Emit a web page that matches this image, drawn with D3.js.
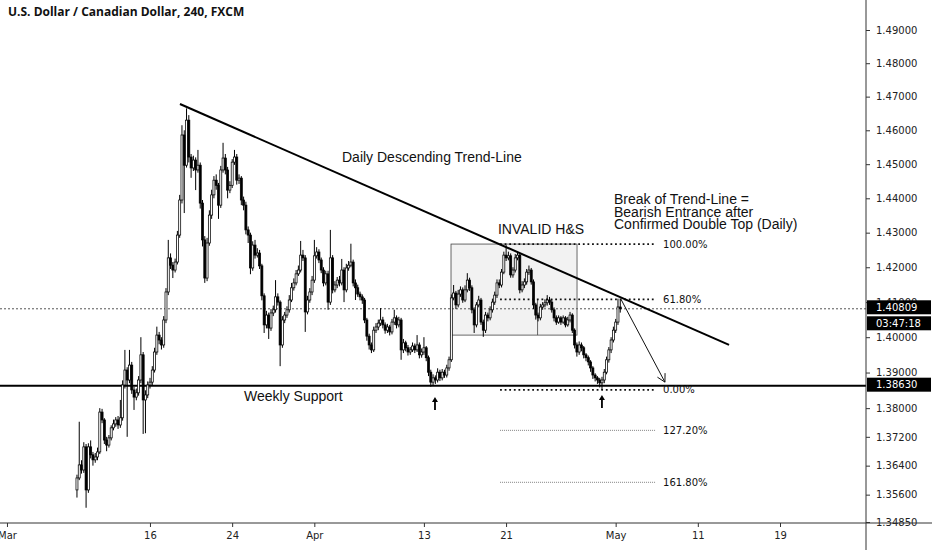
<!DOCTYPE html>
<html>
<head>
<meta charset="utf-8">
<script src="https://cdn.jsdelivr.net/npm/d3@7/dist/d3.min.js"></script>
<style>
  html, body { margin: 0; padding: 0; background: #fff; }
  svg { display: block; }
</style>
</head>
<body>
<svg id="chart" width="932" height="550"></svg>
<script>
'use strict';

// USD/CAD 4h candles
var firstOpen = 1.3573;
var firstSession = 4.67;   // trading-day index of the first candle
var candlesPerDay = 6;

var closes = [
  1.3606, 1.3642, 1.3628, 1.3692, 1.3573, 1.3692, 1.3670, 1.3656, 1.3664, 1.3678,
  1.3789, 1.3767, 1.3711, 1.3697, 1.3717, 1.3745, 1.3756, 1.3767, 1.3753, 1.3773,
  1.3865, 1.3907, 1.3879, 1.3921, 1.3851, 1.3831, 1.3843, 1.3879, 1.3950, 1.3823,
  1.3837, 1.3865, 1.3873, 1.3907, 1.3958, 1.4006, 1.3992, 1.3978, 1.4049, 1.4129,
  1.4227, 1.4206, 1.4192, 1.4215, 1.4293, 1.4395, 1.4586, 1.4497, 1.4630, 1.4521,
  1.4489, 1.4512, 1.4483, 1.4497, 1.4386, 1.4279, 1.4169, 1.4270, 1.4351, 1.4410,
  1.4453, 1.4438, 1.4380, 1.4483, 1.4518, 1.4483, 1.4424, 1.4438, 1.4506, 1.4521,
  1.4453, 1.4459, 1.4395, 1.4380, 1.4308, 1.4293, 1.4198, 1.4264, 1.4235, 1.4241,
  1.4204, 1.4118, 1.4035, 1.4063, 1.4026, 1.4069, 1.4078, 1.4115, 1.4100, 1.3978,
  1.4049, 1.4063, 1.4078, 1.4106, 1.4141, 1.4155, 1.4181, 1.4192, 1.4235, 1.4227,
  1.4072, 1.4106, 1.4129, 1.4163, 1.4233, 1.4244, 1.4221, 1.4192, 1.4155, 1.4181,
  1.4100, 1.4227, 1.4135, 1.4149, 1.4163, 1.4155, 1.4192, 1.4135, 1.4198, 1.4206,
  1.4215, 1.4155, 1.4141, 1.4123, 1.4115, 1.4106, 1.4049, 1.4003, 1.3978, 1.3964,
  1.4020, 1.4029, 1.4040, 1.4049, 1.4035, 1.4020, 1.4029, 1.4015, 1.4043, 1.4055,
  1.4035, 1.4049, 1.3964, 1.3984, 1.3970, 1.3958, 1.3964, 1.3975, 1.3964, 1.3978,
  1.3950, 1.3958, 1.3970, 1.3942, 1.3901, 1.3873, 1.3885, 1.3879, 1.3901, 1.3885,
  1.3901, 1.3893, 1.3913, 1.3936, 1.4112, 1.4126, 1.4092, 1.4123, 1.4135, 1.4106,
  1.4135, 1.4163, 1.4141, 1.4078, 1.4035, 1.4092, 1.4106, 1.4043, 1.4020, 1.4063,
  1.4055, 1.4078, 1.4100, 1.4120, 1.4155, 1.4149, 1.4186, 1.4235, 1.4227, 1.4233,
  1.4178, 1.4192, 1.4227, 1.4235, 1.4135, 1.4149, 1.4158, 1.4186, 1.4192, 1.4158,
  1.4092, 1.4063, 1.4055, 1.4086, 1.4092, 1.4098, 1.4106, 1.4100, 1.4078, 1.4055,
  1.4043, 1.4055, 1.4043, 1.4055, 1.4035, 1.4049, 1.4063, 1.4020, 1.3978, 1.3958,
  1.3978, 1.3970, 1.3950, 1.3942, 1.3930, 1.3913, 1.3893, 1.3885, 1.3879, 1.3871,
  1.3879, 1.3901, 1.3936, 1.3964, 1.3992, 1.4020, 1.4043, 1.4086, 1.40809
];

var highs = [
  1.3615, 1.3762, 1.3655, 1.3705, 1.3700, 1.3702, 1.3710, 1.3678, 1.3675, 1.3690,
  1.3800, 1.3798, 1.3772, 1.3720, 1.3725, 1.3752, 1.3768, 1.3775, 1.3778, 1.3823,
  1.3878, 1.3964, 1.3915, 1.3964, 1.3930, 1.3860, 1.3855, 1.3890, 1.4000, 1.3958,
  1.3850, 1.3875, 1.3885, 1.3918, 1.3970, 1.4030, 1.4015, 1.4000, 1.4060, 1.4140,
  1.4279, 1.4240, 1.4215, 1.4225, 1.4305, 1.4410, 1.4615, 1.4600, 1.4665, 1.4645,
  1.4530, 1.4525, 1.4520, 1.4542, 1.4505, 1.4395, 1.4290, 1.4285, 1.4365, 1.4425,
  1.4465, 1.4470, 1.4445, 1.4495, 1.4563, 1.4530, 1.4492, 1.4450, 1.4515, 1.4542,
  1.4530, 1.4470, 1.4465, 1.4405, 1.4390, 1.4318, 1.4300, 1.4275, 1.4279, 1.4255,
  1.4250, 1.4210, 1.4125, 1.4075, 1.4070, 1.4080, 1.4090, 1.4163, 1.4125, 1.4105,
  1.4060, 1.4072, 1.4088, 1.4120, 1.4155, 1.4168, 1.4192, 1.4205, 1.4276, 1.4250,
  1.4235, 1.4118, 1.4140, 1.4175, 1.4279, 1.4258, 1.4252, 1.4228, 1.4200, 1.4190,
  1.4190, 1.4308, 1.4235, 1.4160, 1.4172, 1.4175, 1.4224, 1.4200, 1.4210, 1.4218,
  1.4268, 1.4222, 1.4165, 1.4150, 1.4130, 1.4122, 1.4112, 1.4055, 1.4010, 1.3985,
  1.4030, 1.4040, 1.4050, 1.4083, 1.4058, 1.4042, 1.4038, 1.4035, 1.4052, 1.4078,
  1.4062, 1.4058, 1.4055, 1.3995, 1.3990, 1.3978, 1.3972, 1.3985, 1.3982, 1.4006,
  1.3985, 1.3968, 1.4000, 1.3975, 1.3948, 1.3908, 1.3895, 1.3892, 1.3912, 1.3908,
  1.3910, 1.3908, 1.3922, 1.3945, 1.4122, 1.4149, 1.4132, 1.4135, 1.4145, 1.4142,
  1.4148, 1.4183, 1.4170, 1.4148, 1.4085, 1.4100, 1.4118, 1.4112, 1.4050, 1.4072,
  1.4070, 1.4088, 1.4110, 1.4130, 1.4165, 1.4165, 1.4195, 1.4245, 1.4264, 1.4245,
  1.4240, 1.4200, 1.4238, 1.4244, 1.4240, 1.4160, 1.4168, 1.4195, 1.4205, 1.4198,
  1.4165, 1.4098, 1.4070, 1.4095, 1.4100, 1.4108, 1.4120, 1.4115, 1.4108, 1.4085,
  1.4062, 1.4062, 1.4060, 1.4062, 1.4060, 1.4058, 1.4072, 1.4068, 1.4025, 1.3985,
  1.3988, 1.3985, 1.3975, 1.3955, 1.3948, 1.3935, 1.3918, 1.3898, 1.3890, 1.3885,
  1.3888, 1.3910, 1.3945, 1.3972, 1.4000, 1.4030, 1.4052, 1.4110, 1.4106
];

var lows = [
  1.3552, 1.3600, 1.3618, 1.3620, 1.3524, 1.3565, 1.3660, 1.3640, 1.3648, 1.3655,
  1.3672, 1.3758, 1.3700, 1.3680, 1.3690, 1.3710, 1.3738, 1.3748, 1.3742, 1.3745,
  1.3765, 1.3855, 1.3720, 1.3870, 1.3840, 1.3795, 1.3822, 1.3835, 1.3870, 1.3728,
  1.3730, 1.3828, 1.3855, 1.3865, 1.3900, 1.3950, 1.3980, 1.3965, 1.3970, 1.4040,
  1.4120, 1.4195, 1.4169, 1.4185, 1.4208, 1.4285, 1.4385, 1.4357, 1.4490, 1.4505,
  1.4460, 1.4480, 1.4424, 1.4475, 1.4370, 1.4260, 1.4155, 1.4160, 1.4262, 1.4340,
  1.4400, 1.4425, 1.4340, 1.4372, 1.4475, 1.4470, 1.4400, 1.4415, 1.4430, 1.4498,
  1.4440, 1.4442, 1.4380, 1.4365, 1.4295, 1.4270, 1.4180, 1.4190, 1.4225, 1.4228,
  1.4195, 1.4105, 1.4012, 1.4025, 1.3995, 1.4018, 1.4060, 1.4070, 1.4090, 1.3918,
  1.3970, 1.4040, 1.4055, 1.4070, 1.4100, 1.4133, 1.4148, 1.4175, 1.4185, 1.4218,
  1.4015, 1.4065, 1.4098, 1.4120, 1.4155, 1.4225, 1.4212, 1.4183, 1.4145, 1.4148,
  1.4078, 1.4092, 1.4125, 1.4128, 1.4140, 1.4145, 1.4148, 1.4100, 1.4128, 1.4190,
  1.4200, 1.4145, 1.4106, 1.4115, 1.4105, 1.4095, 1.4040, 1.3990, 1.3965, 1.3955,
  1.3958, 1.4012, 1.4020, 1.4032, 1.4025, 1.4010, 1.4012, 1.4005, 1.4008, 1.4035,
  1.4025, 1.4028, 1.3936, 1.3955, 1.3960, 1.3948, 1.3950, 1.3958, 1.3955, 1.3958,
  1.3940, 1.3942, 1.3950, 1.3932, 1.3890, 1.3860, 1.3865, 1.3868, 1.3872, 1.3876,
  1.3878, 1.3885, 1.3886, 1.3905, 1.3930, 1.4105, 1.4080, 1.4085, 1.4115, 1.4098,
  1.4100, 1.4128, 1.4132, 1.4068, 1.4012, 1.4028, 1.4085, 1.4035, 1.4001, 1.4012,
  1.4045, 1.4048, 1.4070, 1.4092, 1.4112, 1.4140, 1.4142, 1.4180, 1.4218, 1.4220,
  1.4170, 1.4170, 1.4185, 1.4220, 1.4125, 1.4128, 1.4140, 1.4150, 1.4178, 1.4150,
  1.4080, 1.4050, 1.4045, 1.4048, 1.4078, 1.4085, 1.4090, 1.4092, 1.4070, 1.4045,
  1.4035, 1.4038, 1.4035, 1.4038, 1.4028, 1.4030, 1.4042, 1.4012, 1.3968, 1.3945,
  1.3950, 1.3960, 1.3940, 1.3932, 1.3920, 1.3902, 1.3882, 1.3875, 1.3868, 1.3858,
  1.3851, 1.3870, 1.3895, 1.3928, 1.3955, 1.3985, 1.4012, 1.4035, 1.4070
];

// axes
var dayTicks = [-0.44, 10, 16, 22, 30, 36, 44, 50, 56];
var dayLabels = ['Mar', '16', '24', 'Apr', '13', '21', 'May', '11', '19'];
var priceTicks = [1.49, 1.48, 1.47, 1.46, 1.45, 1.44, 1.43, 1.42, 1.41, 1.40,
  1.39, 1.38, 1.372, 1.364, 1.356, 1.3485];

// levels and drawings (day index, price)
var supportPrice = 1.38630;
var lastPrice = 1.40809;
var countdown = '03:47:18';
var trendLine = [[12.19, 1.4678], [52.28, 1.3978]];
var hsBox = {x0: 31.98, x1: 41.18, top: 1.4267, bottom: 1.4006};
var hsDivider = {day: 38.3, top: 1.4108, bottom: 1.4006};
var fibLevels = [1.4267, 1.4108, 1.3851, 1.3738, 1.3594];
var fibLabels = ['100.00%', '61.80%', '0.00%', '127.20%', '161.80%'];
var fibMain = [true, true, true, false, false];
var fibSpan = [35.56, 46.88];
var targetArrow = [[44.39, 1.4108], [47.6, 1.3873]];
var lowMarkers = [[30.81, 1.3831], [43.0, 1.3837]];
var notes = [
  {day: 24.02, price: 1.4521, lines: ['Daily Descending Trend-Line']},
  {day: 35.41, price: 1.4311, lines: ['INVALID H&S']},
  {day: 43.88, price: 1.4397, lines: ['Break of Trend-Line =', 'Bearish Entrance after', 'Confirmed Double Top (Daily)']},
  {day: 16.87, price: 1.3834, lines: ['Weekly Support']}
];

var W = 932, H = 550;
var plotRight = 866, plotBottom = 523;
var svg = d3.select('#chart');

var x = d3.scaleLinear().domain([0, 56]).range([13, 780]);
var y = d3.scaleLog().domain([1.3485, 1.49]).range([522, 30]);

var candles = closes.map(function (c, i) {
  return {
    day: firstSession + i / candlesPerDay,
    open: i ? closes[i - 1] : firstOpen,
    high: highs[i],
    low: lows[i],
    close: c
  };
});

svg.append('rect').attr('width', W).attr('height', H).attr('fill', '#fff');

svg.append('defs').append('clipPath').attr('id', 'plotClip')
  .append('rect').attr('x', 0).attr('y', 0)
  .attr('width', plotRight).attr('height', plotBottom);

var plot = svg.append('g').attr('clip-path', 'url(#plotClip)');

// H&S box
plot.append('rect')
  .attr('x', x(hsBox.x0)).attr('y', y(hsBox.top))
  .attr('width', x(hsBox.x1) - x(hsBox.x0))
  .attr('height', y(hsBox.bottom) - y(hsBox.top))
  .attr('fill', '#f2f2f2').attr('stroke', '#444').attr('stroke-width', 0.8);
plot.append('line')
  .attr('x1', x(hsDivider.day)).attr('x2', x(hsDivider.day))
  .attr('y1', y(hsDivider.top)).attr('y2', y(hsDivider.bottom))
  .attr('stroke', '#444').attr('stroke-width', 0.8);

// fib levels
plot.selectAll('.fib').data(fibLevels).enter().append('line')
  .attr('class', 'fib')
  .attr('x1', x(fibSpan[0])).attr('x2', x(fibSpan[1]))
  .attr('y1', function (d) { return y(d); })
  .attr('y2', function (d) { return y(d); })
  .attr('stroke', function (d, i) { return fibMain[i] ? '#111' : '#777'; })
  .attr('stroke-width', function (d, i) { return fibMain[i] ? 1.8 : 0.9; })
  .attr('stroke-dasharray', function (d, i) { return fibMain[i] ? '1.8,2.8' : '1,1'; });

svg.selectAll('.fibLabel').data(fibLevels).enter().append('text')
  .attr('class', 'fibLabel')
  .attr('x', x(fibSpan[1]) + 8)
  .attr('y', function (d) { return y(d); })
  .attr('dy', '0.35em')
  .attr('font-family', 'DejaVu Sans, sans-serif')
  .attr('font-size', 10)
  .attr('fill', '#111')
  .text(function (d, i) { return fibLabels[i]; });

// last price line
plot.append('line')
  .attr('x1', 0).attr('x2', plotRight)
  .attr('y1', y(lastPrice)).attr('y2', y(lastPrice))
  .attr('stroke', '#555').attr('stroke-width', 1)
  .attr('stroke-dasharray', '2,2');

// weekly support
plot.append('line')
  .attr('x1', 0).attr('x2', plotRight)
  .attr('y1', y(supportPrice)).attr('y2', y(supportPrice))
  .attr('stroke', '#000').attr('stroke-width', 2);

// candles
var cg = plot.append('g');
cg.selectAll('.wick').data(candles).enter().append('line')
  .attr('class', 'wick')
  .attr('x1', function (d) { return x(d.day); })
  .attr('x2', function (d) { return x(d.day); })
  .attr('y1', function (d) { return y(d.high); })
  .attr('y2', function (d) { return y(d.low); })
  .attr('stroke', '#000').attr('stroke-width', 1);

cg.selectAll('.body').data(candles).enter().append('rect')
  .attr('class', 'body')
  .attr('x', function (d) { return x(d.day) - 1; })
  .attr('width', 2)
  .attr('y', function (d) { return y(Math.max(d.open, d.close)); })
  .attr('height', function (d) {
    return Math.max(0.8, Math.abs(y(d.open) - y(d.close)));
  })
  .attr('fill', function (d) { return d.close >= d.open ? '#fff' : '#000'; })
  .attr('stroke', '#000').attr('stroke-width', 0.75);

// trend line
plot.append('line')
  .attr('x1', x(trendLine[0][0])).attr('y1', y(trendLine[0][1]))
  .attr('x2', x(trendLine[1][0])).attr('y2', y(trendLine[1][1]))
  .attr('stroke', '#000').attr('stroke-width', 2);

// projected move arrow
var ax0 = x(targetArrow[0][0]), ay0 = y(targetArrow[0][1]);
var ax1 = x(targetArrow[1][0]), ay1 = y(targetArrow[1][1]);
var ang = Math.atan2(ay1 - ay0, ax1 - ax0);
var headLen = 9;
plot.append('path')
  .attr('d', 'M' + ax0 + ',' + ay0 + 'L' + ax1 + ',' + ay1 +
    'M' + (ax1 - headLen * Math.cos(ang - 0.5)) + ',' + (ay1 - headLen * Math.sin(ang - 0.5)) +
    'L' + ax1 + ',' + ay1 +
    'L' + (ax1 - headLen * Math.cos(ang + 0.5)) + ',' + (ay1 - headLen * Math.sin(ang + 0.5)))
  .attr('fill', 'none').attr('stroke', '#111').attr('stroke-width', 1);

// swing-low markers
plot.selectAll('.marker').data(lowMarkers).enter().append('path')
  .attr('class', 'marker')
  .attr('transform', function (d) { return 'translate(' + x(d[0]) + ',' + y(d[1]) + ')'; })
  .attr('d', 'M0,0L-3,5L-0.9,5L-0.9,13L0.9,13L0.9,5L3,5Z')
  .attr('fill', '#000');

// notes
notes.forEach(function (n) {
  var t = svg.append('text')
    .attr('x', x(n.day)).attr('y', y(n.price))
    .attr('font-family', 'Liberation Sans, Arial, sans-serif')
    .attr('font-size', 14).attr('fill', '#111');
  n.lines.forEach(function (line, i) {
    t.append('tspan').attr('x', x(n.day))
      .attr('dy', i === 0 ? '0.35em' : 12.6)
      .text(line);
  });
});

// right price axis
var yAxis = d3.axisRight(y).tickValues(priceTicks)
  .tickFormat(d3.format('.5f')).tickSize(4).tickPadding(6);
var ya = svg.append('g').attr('transform', 'translate(' + plotRight + ',0)').call(yAxis);
ya.select('.domain').remove();
ya.selectAll('line').attr('stroke', '#333');
ya.selectAll('text').attr('font-family', 'DejaVu Sans, sans-serif')
  .attr('font-size', 10).attr('fill', '#222');

// bottom time axis
var xAxis = d3.axisBottom(x).tickValues(dayTicks)
  .tickFormat(function (d, i) { return dayLabels[i]; })
  .tickSize(4).tickPadding(5);
var xa = svg.append('g').attr('transform', 'translate(0,' + plotBottom + ')').call(xAxis);
xa.select('.domain').remove();
xa.selectAll('line').attr('stroke', '#333');
xa.selectAll('text').attr('font-family', 'DejaVu Sans, sans-serif')
  .attr('font-size', 10).attr('fill', '#222');

svg.append('line').attr('x1', plotRight).attr('x2', plotRight)
  .attr('y1', 0).attr('y2', H).attr('stroke', '#333').attr('stroke-width', 1);
svg.append('line').attr('x1', 0).attr('x2', W)
  .attr('y1', plotBottom).attr('y2', plotBottom).attr('stroke', '#333').attr('stroke-width', 1);

// price labels on the axis
function priceTag(yc, label) {
  svg.append('rect').attr('x', plotRight + 1).attr('y', yc - 7)
    .attr('width', W - plotRight - 2).attr('height', 14).attr('fill', '#000');
  svg.append('text').attr('x', plotRight + 10).attr('y', yc).attr('dy', '0.35em')
    .attr('font-family', 'DejaVu Sans, sans-serif').attr('font-size', 10)
    .attr('fill', '#fff').text(label);
}
priceTag(y(lastPrice) - 1.5, d3.format('.5f')(lastPrice));
priceTag(y(lastPrice) + 14.5, countdown);
priceTag(y(supportPrice) - 1, d3.format('.5f')(supportPrice));

// title
svg.append('text').attr('x', 8).attr('y', 16)
  .attr('font-family', 'Open Sans, sans-serif').attr('font-weight', 700)
  .attr('font-size', 12).attr('fill', '#111')
  .text('U.S. Dollar / Canadian Dollar, 240, FXCM');
</script>
</body>
</html>
